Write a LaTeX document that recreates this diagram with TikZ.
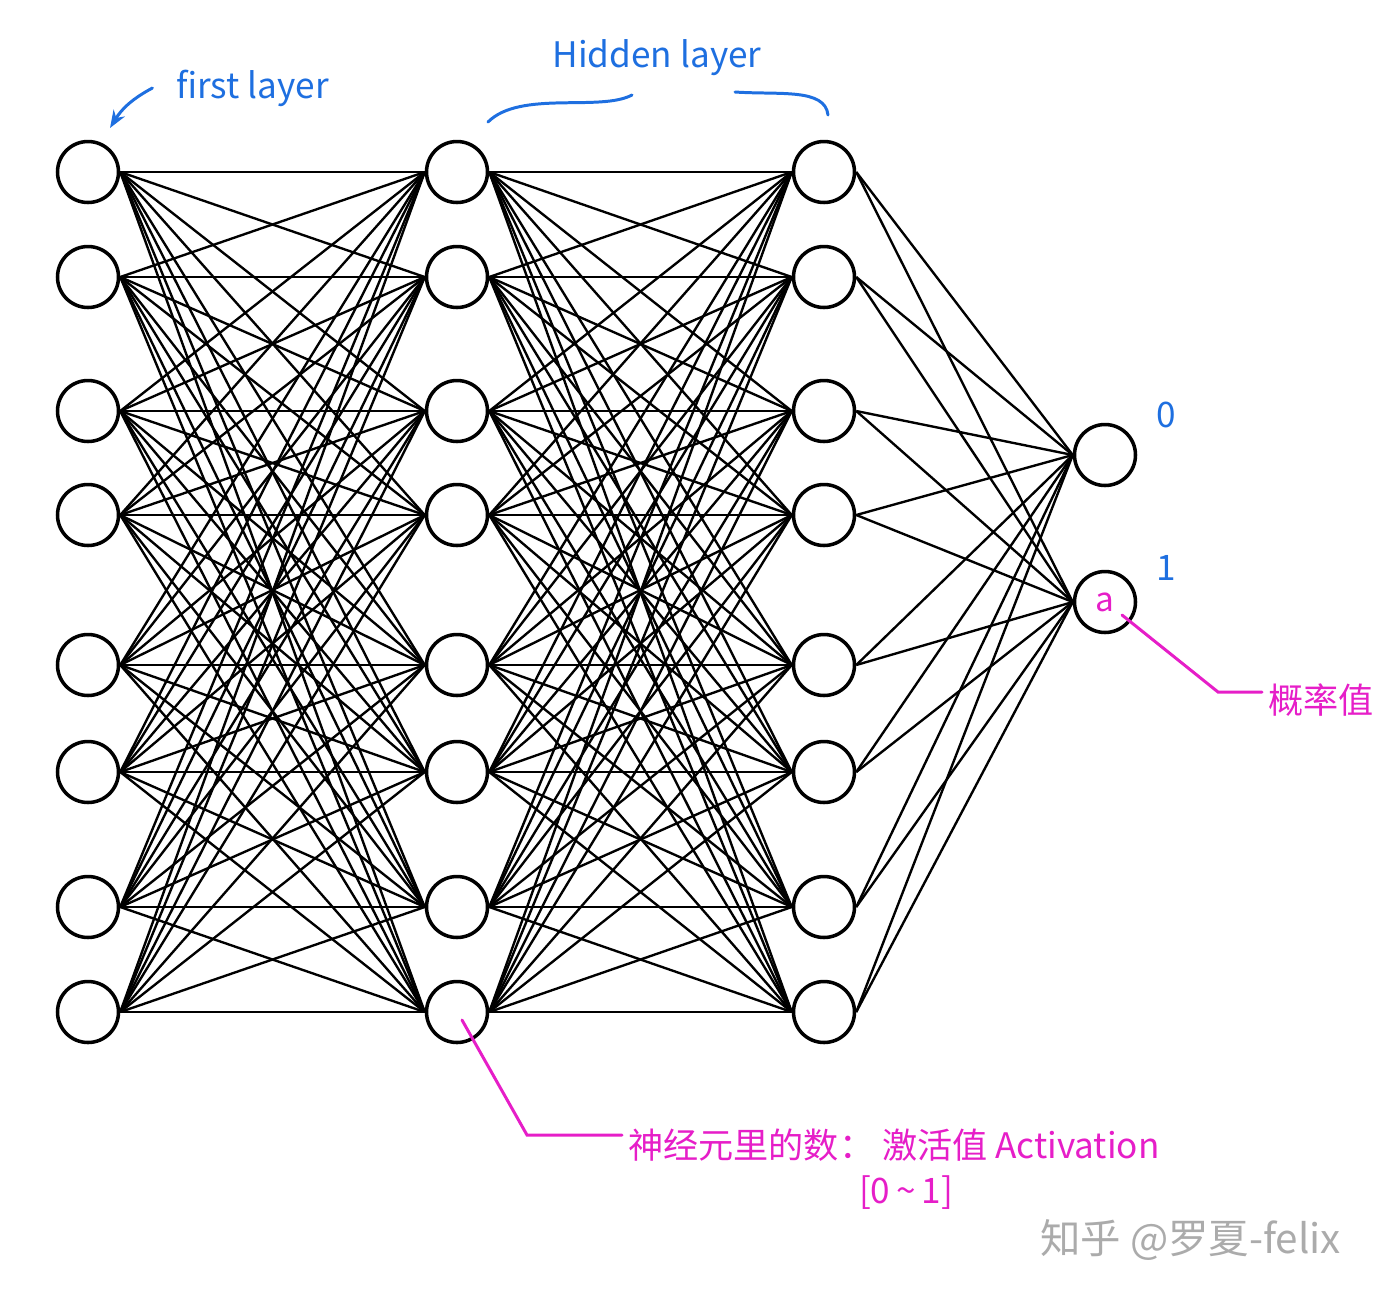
\documentclass[tikz,border=0pt]{standalone}
\usepackage{fontspec}
\setmainfont{Noto Sans CJK SC}
\usepackage{tikz}
\usetikzlibrary{positioning, arrows.meta}
\definecolor{penBlue}{HTML}{1E6FE0}
\definecolor{penMagenta}{HTML}{E61EC8}
\definecolor{markGray}{HTML}{ABABAB}

\begin{document}
\begin{tikzpicture}[x=0.02cm, y=-0.02cm,
    neuron/.style={circle, draw=black, line width=2pt, minimum size=1.22cm, inner sep=0pt},
    wire/.style={line width=1.35pt},
    note/.style={text=penMagenta, font=\fontsize{20}{24}\selectfont},
    hand/.style={text=penBlue, font=\fontsize{20}{24}\selectfont},
    pen/.style={line width=1.7pt, line cap=round}]
    \useasboundingbox (0,0) rectangle (1382,1296);

    % three columns of eight neurons
    \foreach \y [count=\i] in {172,277,411,515,665,772,907,1012} {
        \node[neuron] (in\i) at (88,\y) {};
        \node[neuron] (hA\i) at (457,\y) {};
        \node[neuron] (hB\i) at (824,\y) {};
    }
    \node[neuron] (out1) at (1105,455) {};
    \node[neuron, text=penMagenta, font=\fontsize{19}{22}\selectfont] (out2) at (1105,602) {a};

    % fully connected weights
    \foreach \i in {1,...,8} {
        \foreach \j in {1,...,8} {
            \draw[wire] (in\i.east) -- (hA\j.west);
            \draw[wire] (hA\i.east) -- (hB\j.west);
        }
        \draw[wire] (hB\i.east) -- (out1.west);
        \draw[wire] (hB\i.east) -- (out2.west);
    }

    % blue notes
    \node[hand, anchor=west] (firstLbl) at (170,88) {first layer};
    \coordinate (firstTip) at (110,128);
    \draw[penBlue, pen, -{Stealth[length=10pt]}] ([xshift=-10pt]firstLbl.west) to[bend right=15] (firstTip);
    \node[hand] (hiddenLbl) at (657,58) {Hidden layer};
    \draw[penBlue, pen] (488,122) .. controls (520,90) and (600,112) .. (632,95);
    \draw[penBlue, pen] (735,92) .. controls (780,95) and (825,88) .. (828,115);
    \node[hand, anchor=west] (zeroLbl) at (1150,415) {0};
    \node[hand, anchor=west] (oneLbl) at (1150,568) {1};

    % magenta notes
    \node[note, anchor=west] (actLbl) at (622,1145) {神经元里的数： 激活值 Activation};
    \node[note] (rangeLbl) at (906,1193) {[0\,\textasciitilde\,1]};
    \draw[penMagenta, pen] ([shift={(5,8)}]hA8.center) -- (527,1135) -- (actLbl.west |- 0,1135);
    \node[note, anchor=west] (probLbl) at (1262,700) {概率值};
    \draw[penMagenta, pen] ([shift={(17,13)}]out2.center) -- (1218,692) -- (probLbl.west |- 0,692);

    % watermark
    \node[text=markGray, font=\fontsize{23}{27}\selectfont, anchor=west] (markLbl) at (1034,1240) {知乎 @罗夏-felix};
\end{tikzpicture}
\end{document}
